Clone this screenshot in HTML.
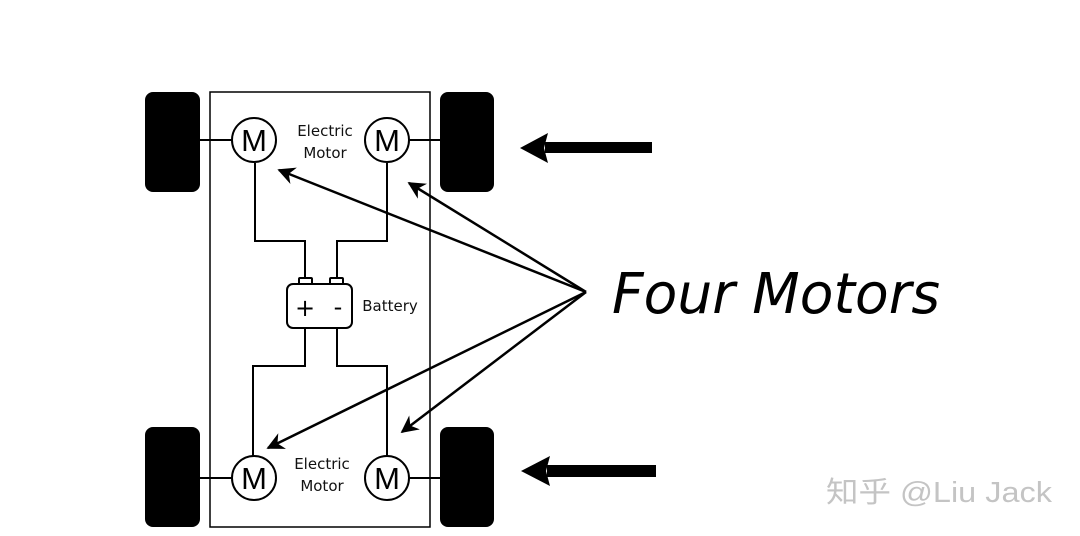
<!DOCTYPE html>
<html><head><meta charset="utf-8"><style>
html,body{margin:0;padding:0;background:#fff;width:1080px;height:536px;overflow:hidden}
svg{display:block}
</style></head><body>
<svg width="1080" height="536" viewBox="0 0 1080 536" xmlns="http://www.w3.org/2000/svg">
<defs>
<marker id="ah" viewBox="0 0 10 10" refX="9" refY="5" markerWidth="7" markerHeight="7" orient="auto" markerUnits="strokeWidth">
<path d="M0,0 L10,5 L0,10 L3,5 z" fill="#000"/></marker>
</defs>
<rect width="1080" height="536" fill="#fff"/>
<rect x="145" y="92" width="55" height="100" rx="8" fill="#000"/>
<rect x="440" y="92" width="54" height="100" rx="8" fill="#000"/>
<rect x="145" y="427" width="55" height="100" rx="8" fill="#000"/>
<rect x="440" y="427" width="54" height="100" rx="8" fill="#000"/>
<rect x="210" y="92" width="220" height="435" fill="none" stroke="#000" stroke-width="1.5"/>
<g stroke="#000" stroke-width="2" fill="none">
<line x1="200" y1="140" x2="232" y2="140"/>
<line x1="409" y1="140" x2="440" y2="140"/>
<line x1="200" y1="478" x2="232" y2="478"/>
<line x1="409" y1="478" x2="440" y2="478"/>
<polyline points="255,163 255,241 305,241 305,277"/>
<polyline points="387,163 387,241 337,241 337,277"/>
<polyline points="305,328 305,366 253,366 253,456"/>
<polyline points="337,328 337,366 387,366 387,456"/>
</g>
<g stroke="#000" stroke-width="2" fill="#fff">
<circle cx="254" cy="140" r="22"/><circle cx="387" cy="140" r="22"/>
<circle cx="254" cy="478" r="22"/><circle cx="387" cy="478" r="22"/>
</g>
<g font-family="Liberation Sans, sans-serif" font-size="31" text-anchor="middle">
<text x="254" y="151">M</text><text x="387" y="151">M</text>
<text x="254" y="489">M</text><text x="387" y="489">M</text>
</g>
<g font-family="DejaVu Sans, sans-serif" font-size="15" text-anchor="middle" fill="#111">
<text x="325" y="136">Electric</text><text x="325" y="158">Motor</text>
<text x="322" y="469">Electric</text><text x="322" y="491">Motor</text>
<text x="390" y="311">Battery</text>
</g>
<g stroke="#000" stroke-width="2" fill="#fff">
<rect x="299" y="278" width="13" height="7" rx="1"/>
<rect x="330" y="278" width="13" height="7" rx="1"/>
<rect x="287" y="284" width="65" height="44" rx="6"/>
</g>
<text x="305" y="316" font-family="DejaVu Sans, sans-serif" font-size="24" text-anchor="middle">+</text>
<text x="338" y="315" font-family="DejaVu Sans, sans-serif" font-size="24" text-anchor="middle">-</text>
<g stroke="#000" stroke-width="2.5" fill="none" marker-end="url(#ah)">
<line x1="586" y1="292" x2="279" y2="170"/>
<line x1="586" y1="292" x2="409" y2="183"/>
<line x1="586" y1="292" x2="268" y2="448"/>
<line x1="586" y1="292" x2="402" y2="432"/>
</g>
<rect x="545" y="142" width="107" height="11" fill="#000"/>
<path d="M520,148 L548,133 L544,148 L548,163 z" fill="#000"/>
<rect x="547" y="465" width="109" height="12" fill="#000"/>
<path d="M521,471 L550,456 L546,471 L550,486 z" fill="#000"/>
<text x="612" y="313" font-family="DejaVu Sans, sans-serif" font-style="italic" font-size="56" textLength="328" lengthAdjust="spacingAndGlyphs">Four Motors</text>
<text x="826" y="502" font-family="Liberation Sans, Noto Sans CJK SC, sans-serif" font-size="29" fill="#c4c4c4" textLength="226" lengthAdjust="spacingAndGlyphs">知乎 @Liu Jack</text>
</svg>
</body></html>
